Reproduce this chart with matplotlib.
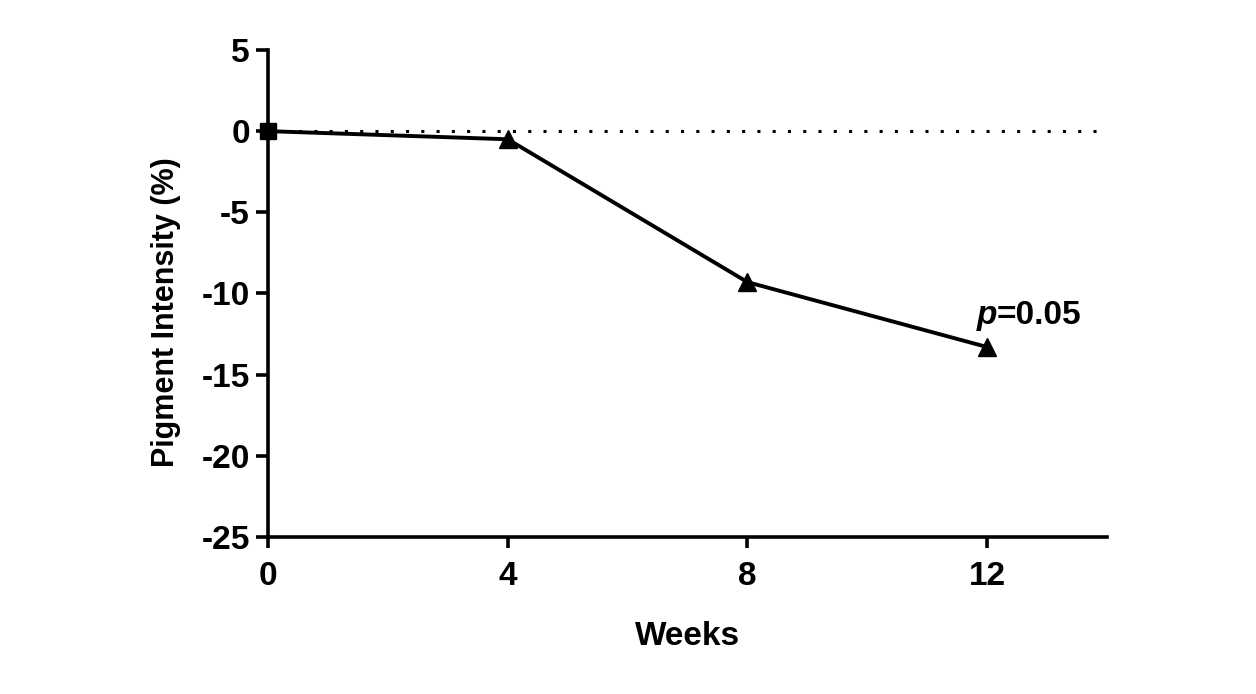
import matplotlib
matplotlib.use("Agg")
import matplotlib.pyplot as plt

weeks = [0, 4, 8, 12]
intensity = [0.0, -0.5, -9.3, -13.3]
xticks = [0, 4, 8, 12]
yticks = [5, 0, -5, -10, -15, -20, -25]

plt.rcParams['font.family'] = ['Liberation Sans', 'DejaVu Sans']
plt.rcParams['font.weight'] = 'bold'

FS = 24

fig = plt.figure(figsize=(12.56, 6.94), dpi=100)
ax = fig.add_axes([0.2134, 0.2262, 0.8814 - 0.2134, 0.928 - 0.2262])

ax.axhline(0, color='black', linestyle=(0, (1, 4)), linewidth=2.2, zorder=1)
ax.plot(weeks, intensity, color='black', linewidth=2.8, zorder=2)
ax.plot(weeks[1:], intensity[1:], linestyle='none', marker='^', markersize=13,
        color='black', zorder=3)
ax.plot(weeks[:1], intensity[:1], linestyle='none', marker='s', markersize=12,
        color='black', zorder=3, clip_on=False)

ax.set_xlim(0, 14)
ax.set_ylim(-25, 5)
ax.set_xticks(xticks)
ax.set_yticks(yticks)
ax.set_xticklabels([str(v) for v in xticks], fontsize=FS, fontweight='bold')
ax.set_yticklabels([str(v) for v in yticks], fontsize=FS, fontweight='bold')
ax.tick_params(axis='both', width=2.6, length=8, direction='out', pad=4)
ax.tick_params(axis='x', pad=9)
ax.tick_params(axis='y', length=9)

for s in ['top', 'right']:
    ax.spines[s].set_visible(False)
for s in ['left', 'bottom']:
    ax.spines[s].set_linewidth(2.6)

ax.set_xlabel('Weeks', fontsize=FS, fontweight='bold', labelpad=21)
ax.set_ylabel('Pigment Intensity (%)', fontsize=22, fontweight='bold')
ax.yaxis.set_label_coords(-0.104, 0.462)

ax.text(11.82, -11.9, 'p', fontsize=FS, fontweight='bold', fontstyle='italic',
        ha='left', va='baseline')
ax.text(12.15, -11.9, '=0.05', fontsize=FS, fontweight='bold',
        ha='left', va='baseline')

fig.savefig('out.png', dpi=100, facecolor='white')
